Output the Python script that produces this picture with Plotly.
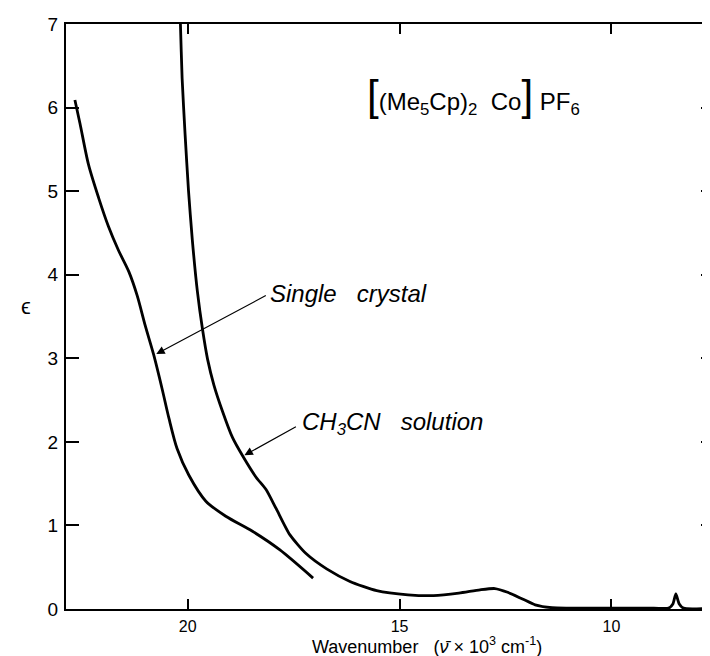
import plotly.graph_objects as go

# Single crystal spectrum (wavenumber in 10^3 cm^-1, epsilon)
crystal_v = [22.66, 22.54, 22.34, 22.10, 21.87, 21.63, 21.39, 21.19, 21.00, 20.80,
             20.60, 20.44, 20.25, 19.97, 19.57, 19.10, 18.47, 17.83, 17.04]
crystal_e = [6.09, 5.81, 5.32, 4.92, 4.58, 4.29, 4.04, 3.75, 3.39, 3.04,
             2.63, 2.28, 1.92, 1.60, 1.29, 1.11, 0.93, 0.71, 0.37]

# CH3CN solution spectrum
solution_v = [20.19, 20.17, 20.13, 20.06, 19.98, 19.89, 19.77, 19.65, 19.53, 19.38,
              19.18, 18.94, 18.70, 18.39, 18.15, 17.91, 17.59, 17.20, 16.72, 16.17,
              15.54, 14.80, 14.20, 13.60, 13.10, 12.75, 12.45, 12.10, 11.80, 11.40,
              11.00, 9.00, 8.65, 8.55, 8.48, 8.40, 8.30, 7.58]
solution_e = [7.30, 7.00, 6.35, 5.68, 5.01, 4.42, 3.80, 3.35, 2.99, 2.68,
              2.37, 2.05, 1.83, 1.58, 1.43, 1.20, 0.89, 0.66, 0.48, 0.33,
              0.22, 0.17, 0.16, 0.19, 0.23, 0.245, 0.20, 0.12, 0.05, 0.015,
              0.01, 0.01, 0.01, 0.06, 0.18, 0.06, 0.01, 0.01]

x_ticks = [20, 15, 10]
y_ticks = [0, 1, 2, 3, 4, 5, 6, 7]

FONT = "Liberation Sans"

fig = go.Figure()
fig.add_trace(go.Scatter(x=crystal_v, y=crystal_e, mode="lines",
                         line=dict(color="black", width=2.8, shape="spline", smoothing=0.8),
                         showlegend=False, hoverinfo="skip"))
fig.add_trace(go.Scatter(x=solution_v, y=solution_e, mode="lines",
                         line=dict(color="black", width=2.8, shape="spline", smoothing=0.6),
                         showlegend=False, hoverinfo="skip"))

fig.update_layout(
    width=710, height=656,
    margin=dict(l=58, r=2, t=16, b=55),
    paper_bgcolor="white", plot_bgcolor="white",
    font=dict(family=FONT, color="black"),
    showlegend=False,
)
fig.update_xaxes(range=[22.87, 7.58], tickvals=x_ticks, ticktext=[str(t) for t in x_ticks],
                 ticks="inside", ticklen=10, tickwidth=1.5, tickcolor="black",
                 showline=True, linewidth=2, linecolor="black", mirror="ticks",
                 showgrid=False, zeroline=False, tickfont=dict(size=16, family=FONT),
                 ticklabelstandoff=2)
fig.update_yaxes(range=[0, 7], tickvals=y_ticks, ticktext=[str(t) for t in y_ticks],
                 ticks="inside", ticklen=13, tickwidth=1.5, tickcolor="black",
                 showline=True, linewidth=2, linecolor="black", mirror="ticks",
                 showgrid=False, zeroline=False, tickfont=dict(size=19, family=FONT),
                 ticklabelstandoff=2)

annotations = [
    dict(x=15.81, y=6.14, xref="x", yref="y", xanchor="left", yanchor="middle",
         showarrow=False, font=dict(size=24, family=FONT),
         text='<span style="font-size:42px">[</span>(Me<sub>5</sub>Cp)<sub>2</sub>&nbsp; Co'
              '<span style="font-size:42px">]</span> PF<sub>6</sub>'),
    dict(x=20.74, y=3.05, ax=18.12, ay=3.76, xref="x", yref="y", axref="x", ayref="y",
         text="", showarrow=True, arrowhead=2, arrowsize=1.4, arrowwidth=1.2,
         arrowcolor="black"),
    dict(x=18.10, y=3.78, xref="x", yref="y", xanchor="left", yanchor="middle",
         showarrow=False, font=dict(size=24, family=FONT),
         text="<i>Single&nbsp;&nbsp; crystal</i>"),
    dict(x=18.66, y=1.84, ax=17.41, ay=2.19, xref="x", yref="y", axref="x", ayref="y",
         text="", showarrow=True, arrowhead=2, arrowsize=1.4, arrowwidth=1.2,
         arrowcolor="black"),
    dict(x=17.36, y=2.22, xref="x", yref="y", xanchor="left", yanchor="middle",
         showarrow=False, font=dict(size=24, family=FONT),
         text="<i>CH<sub>3</sub>CN&nbsp;&nbsp; solution</i>"),
    dict(x=-0.0615, y=3.62, xref="paper", yref="y", xanchor="center", yanchor="middle",
         showarrow=False, font=dict(size=22, family=FONT), text="ϵ"),
    dict(x=14.35, y=-0.063, xref="x", yref="paper", xanchor="center", yanchor="middle",
         showarrow=False, font=dict(size=18, family=FONT),
         text="Wavenumber&nbsp;&nbsp; (<i>ν̄</i> × 10<sup>3</sup> cm<sup>-1</sup>)"),
]
fig.update_layout(annotations=annotations)

fig.write_html("out.html")
